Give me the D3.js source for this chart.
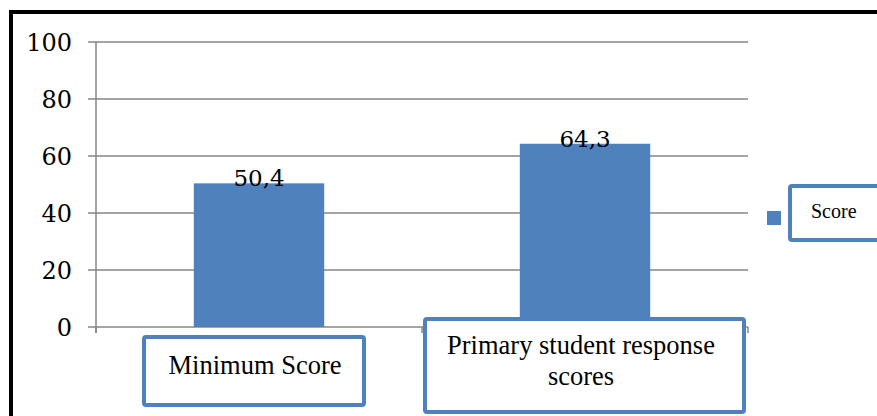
<!DOCTYPE html>
<html>
<head>
<meta charset="utf-8">
<script src="https://cdn.jsdelivr.net/npm/d3@7"></script>
<style>
  body { margin: 0; background: #fff; }
  svg { display: block; }
  .num { font-family: "DejaVu Serif", serif; }
  .txt { font-family: "Liberation Serif", "Times New Roman", serif; }
</style>
</head>
<body>
<div id="chart"></div>
<script>
// chart data
const categories = ["Minimum Score", "Primary student response scores"];
const scores = [50.4, 64.3];
const valueLabels = ["50,4", "64,3"];
const yTicks = [0, 20, 40, 60, 80, 100];
const seriesName = "Score";

const width = 877, height = 416;
const blue = "#4f81bd";

const svg = d3.select("#chart").append("svg")
  .attr("width", width)
  .attr("height", height);

// outer frame, runs off the right and bottom edges
svg.append("rect")
  .attr("x", 11).attr("y", 12)
  .attr("width", 900).attr("height", 440)
  .attr("fill", "none")
  .attr("stroke", "#000")
  .attr("stroke-width", 4);

const plot = { left: 96, right: 748, top: 42, bottom: 327 };

const x = d3.scaleBand()
  .domain(categories)
  .range([plot.left, plot.right])
  .paddingInner(0);

const y = d3.scaleLinear()
  .domain([0, 100])
  .range([plot.bottom, plot.top]);

// horizontal gridlines
svg.append("g")
  .selectAll("line")
  .data(yTicks)
  .join("line")
  .attr("x1", plot.left - 8)
  .attr("x2", plot.right)
  .attr("y1", d => y(d))
  .attr("y2", d => y(d))
  .attr("stroke", "#868686")
  .attr("stroke-width", 1.5);

// y axis line
svg.append("line")
  .attr("x1", plot.left).attr("x2", plot.left)
  .attr("y1", plot.top).attr("y2", plot.bottom + 6)
  .attr("stroke", "#868686")
  .attr("stroke-width", 1.5);

// x axis tick marks at category boundaries
const boundaries = categories.map(c => x(c)).concat([plot.right]);
svg.append("g")
  .selectAll("line")
  .data(boundaries)
  .join("line")
  .attr("x1", d => d).attr("x2", d => d)
  .attr("y1", plot.bottom).attr("y2", plot.bottom + 6)
  .attr("stroke", "#868686")
  .attr("stroke-width", 1.5);

// y tick labels
svg.append("g")
  .selectAll("text")
  .data(yTicks)
  .join("text")
  .attr("class", "num")
  .attr("x", 72)
  .attr("y", d => y(d) + 9)
  .attr("text-anchor", "end")
  .style("font-size", "24px")
  .text(d => d);

// bars
const barW = x.bandwidth() * 0.4;
svg.append("g")
  .selectAll("rect")
  .data(scores)
  .join("rect")
  .attr("x", (d, i) => x(categories[i]) + (x.bandwidth() - barW) / 2)
  .attr("y", d => y(d))
  .attr("width", barW)
  .attr("height", d => y(0) - y(d))
  .attr("fill", blue);

// value labels, sitting on the bar tops
svg.append("g")
  .selectAll("text")
  .data(scores)
  .join("text")
  .attr("class", "num")
  .attr("x", (d, i) => x(categories[i]) + x.bandwidth() / 2)
  .attr("y", d => y(d) + 3)
  .attr("text-anchor", "middle")
  .style("font-size", "23px")
  .text((d, i) => valueLabels[i]);

// category label boxes
const catBoxes = [
  { x: 144, y: 337, w: 220, h: 68, lines: ["Minimum Score"], base: 374 },
  { x: 425, y: 319, w: 319, h: 93, lines: ["Primary student response", "scores"], base: 354 }
];
catBoxes.forEach((b, i) => {
  svg.append("rect")
    .attr("x", b.x).attr("y", b.y)
    .attr("width", b.w).attr("height", b.h)
    .attr("rx", 2)
    .attr("fill", "#fff")
    .attr("stroke", blue)
    .attr("stroke-width", 4);
  const cx = x(categories[i]) + x.bandwidth() / 2 - 4;
  svg.append("text")
    .attr("class", "txt")
    .attr("text-anchor", "middle")
    .style("font-size", "26.5px")
    .selectAll("tspan")
    .data(b.lines)
    .join("tspan")
    .attr("x", cx)
    .attr("y", (d, j) => b.base + j * 31)
    .text(d => d);
});

// legend
svg.append("rect")
  .attr("x", 767).attr("y", 211)
  .attr("width", 14).attr("height", 14)
  .attr("fill", blue);
svg.append("rect")
  .attr("x", 790).attr("y", 186)
  .attr("width", 120).attr("height", 54)
  .attr("rx", 2)
  .attr("fill", "#fff")
  .attr("stroke", blue)
  .attr("stroke-width", 4);
svg.append("text")
  .attr("class", "txt")
  .attr("x", 811).attr("y", 218)
  .style("font-size", "20px")
  .text(seriesName);
</script>
</body>
</html>
